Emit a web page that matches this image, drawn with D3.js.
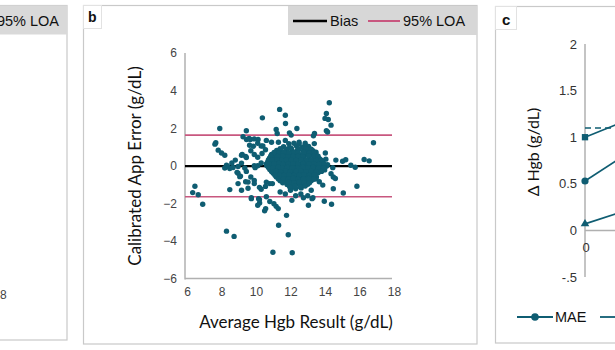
<!DOCTYPE html>
<html>
<head>
<meta charset="utf-8">
<script src="https://cdn.jsdelivr.net/npm/d3@7"></script>
<style>
  body { margin: 0; background: #fff; }
  svg { display: block; }
  text { font-family: "Liberation Sans", Arial, sans-serif; }
  .title { font-family: Lato, "Open Sans", sans-serif; }
</style>
</head>
<body>
<script>
// panel b: Bland-Altman scatter, [average Hgb, calibrated app error]
const outerPoints = [
  [14.25,3.35],[11.37,3.0],[11.7,2.69],[10.37,2.55],[14.08,2.78],[14.0,2.52],[14.19,2.46],[11.71,2.25],
  [14.35,2.16],[14.08,1.86],[14.15,1.8],[7.9,1.98],[12.37,1.98],[11.17,1.93],[11.23,1.72],[9.44,1.86],
  [9.25,1.54],[11.94,1.75],[12.04,1.63],[13.39,1.72],[13.33,1.59],[16.81,1.22],[7.67,1.22],[7.62,1.15],
  [9.67,1.4],[10.12,1.4],[7.81,0.83],[8.0,0.68],[8.19,0.56],[16.27,0.33],[16.56,0.26],[8.35,-0.03],
  [8.19,-0.12],[8.48,-0.15],[6.46,-1.09],[6.33,-1.43],[6.65,-1.54],[6.91,-2.05],[8.48,-1.27],[8.29,-3.48],
  [8.73,-3.76],[10.98,-4.6],[12.1,-4.63],[11.87,-3.67],[11.31,-3.17],[11.77,-2.64],[11.04,-2.02],[11.17,-2.16],
  [11.29,-2.28],[10.56,-2.28],[10.21,-1.98],[10.15,-1.75],[9.73,-1.75],[12.08,-1.84],[13.04,-2.1],[13.25,-1.75],
  [13.96,-1.89],[14.38,-2.05],[14.48,-1.22],[15.06,-1.45],[15.85,-1.09],[14.48,-0.6],[14.02,0.68],[15.02,0.24],
  [15.2,0.32],[15.5,0.03],[15.75,-0.08],[14.63,0.3],[14.45,-0.1],[14.35,-0.42],[14.6,-0.68],[13.38,1.18],
  [13.28,0.8],[13.48,0.72],[13.6,0.3],[14.05,0.35],[14.15,0.05],[13.48,-0.7],[13.67,-0.85],[13.87,-1.03],
  [13.2,-1.3],[13.0,-1.6],[13.3,-1.7],[12.6,-1.5],[12.75,-1.7],[12.3,-1.6],[12.0,-1.3],[11.7,-1.5],
  [11.4,-1.4],[10.8,-0.95],[10.55,-1.1],[10.3,-1.25],[9.9,-0.78],[9.7,-0.6],[9.4,-0.85],[9.1,-0.55],
  [8.9,-0.35],[8.6,0.15],[8.8,0.3],[9.2,0.6],[9.4,0.5],[9.7,0.8],[10.3,1.05],[10.55,0.85],
  [10.6,1.35],[10.9,1.25],[11.3,1.25],[11.7,1.35],[12.5,1.25],[12.85,1.2],[9.45,1.4],[9.6,1.45],
  [9.9,1.43],[9.63,1.09],[9.85,1.04],[10.1,1.2],[10.4,1.05],[9.16,0.56],[9.44,0.44],[9.9,0.6],
  [10.1,0.45],[10.35,0.65],[8.29,0.03],[8.67,-0.09],[8.96,-0.04],[9.16,0.14],[9.35,-0.12],[9.9,0.0],
  [9.95,-0.1],[10.1,0.0],[10.3,0.15],[10.6,0.1],[8.96,-0.4],[9.44,-0.3],[9.06,-0.58],[9.54,-0.87],
  [9.9,-0.95],[10.2,-1.15],[10.6,-0.87],[10.95,-0.95],[9.16,-1.3],[9.54,-1.2],[9.73,-1.7],[10.2,-1.8],
  [10.6,-1.65],[10.8,-1.9],[10.1,-2.1],[10.5,-2.4],[8.96,-0.95]
];
// the dense middle of the cloud
const corePoints = [
  [11.9,1.18],[12.2,1.2],[12.5,1.15],[12.85,1.1],
  [11.6,1.02],[11.95,0.97],[12.35,1.05],[12.7,0.98],[13.05,1.03],
  [11.2,0.82],[11.45,0.78],[11.8,0.84],[12.1,0.79],[12.4,0.83],[12.75,0.77],[13.0,0.82],[13.3,0.79],
  [10.9,0.6],[11.15,0.62],[11.5,0.57],[11.72,0.63],[12.02,0.58],[12.28,0.61],[12.6,0.56],[12.88,0.62],[13.2,0.59],[13.48,0.57],
  [10.78,0.4],[11.08,0.43],[11.37,0.38],[11.62,0.41],[11.9,0.37],[12.18,0.42],[12.48,0.39],[12.77,0.43],[13.08,0.38],[13.4,0.41],[13.68,0.37],
  [10.68,0.2],[10.98,0.18],[11.27,0.22],[11.52,0.17],[11.8,0.21],[12.08,0.19],[12.38,0.23],[12.68,0.18],[12.98,0.21],[13.28,0.17],[13.58,0.22],[13.88,0.19],
  [10.62,0.01],[10.88,-0.02],[11.18,0.03],[11.42,-0.01],[11.7,0.02],[11.98,-0.03],[12.28,0.01],[12.58,0.03],[12.88,-0.02],[13.18,0.02],[13.48,-0.01],[13.78,0.03],[14.08,-0.02],
  [10.8,-0.2],[11.08,-0.18],[11.32,-0.22],[11.6,-0.19],[11.88,-0.21],[12.18,-0.17],[12.48,-0.22],[12.78,-0.2],[13.08,-0.18],[13.38,-0.21],[13.68,-0.19],[13.98,-0.22],
  [11.0,-0.4],[11.28,-0.42],[11.52,-0.38],[11.8,-0.41],[12.1,-0.39],[12.4,-0.43],[12.7,-0.38],[13.0,-0.41],[13.3,-0.4],[13.6,-0.37],
  [11.18,-0.6],[11.48,-0.62],[11.72,-0.58],[12.0,-0.61],[12.32,-0.59],[12.6,-0.63],[12.9,-0.58],[13.2,-0.61],[13.5,-0.6],
  [11.4,-0.8],[11.7,-0.82],[12.02,-0.79],[12.3,-0.81],[12.62,-0.78],[12.9,-0.82],[13.2,-0.8],
  [11.8,-1.0],[12.1,-1.02],[12.42,-0.98],[12.7,-1.01],[13.0,-0.99],
  [12.0,-1.2],[12.3,-1.22],[12.62,-1.18]
];
const coreFillPoints = [
  [11.4,0.91],[11.75,0.88],[12.05,0.92],[12.5,0.89],[12.9,0.91],[13.2,0.88],
  [11.05,0.71],[11.35,0.69],[11.6,0.72],[11.9,0.68],[12.2,0.71],[12.45,0.69],[12.8,0.72],[13.1,0.68],[13.35,0.7],
  [10.85,0.51],[11.25,0.49],[11.55,0.52],[11.85,0.48],[12.15,0.51],[12.42,0.5],[12.72,0.48],[13.05,0.52],[13.35,0.49],[13.6,0.51],
  [10.72,0.31],[10.95,0.29],[11.22,0.32],[11.5,0.28],[11.75,0.31],[12.05,0.3],[12.32,0.28],[12.62,0.32],[12.92,0.29],[13.22,0.31],[13.5,0.28],[13.8,0.3],
  [10.75,0.11],[11.05,0.09],[11.33,0.12],[11.58,0.08],[11.88,0.11],[12.15,0.1],[12.45,0.08],[12.75,0.12],[13.05,0.09],[13.35,0.11],[13.65,0.08],[13.95,0.1],
  [10.72,-0.09],[11.0,-0.11],[11.3,-0.08],[11.55,-0.12],[11.82,-0.09],[12.12,-0.1],[12.42,-0.12],[12.72,-0.08],[13.02,-0.11],[13.32,-0.09],[13.62,-0.12],[13.92,-0.1],
  [10.9,-0.31],[11.15,-0.29],[11.45,-0.32],[11.72,-0.28],[12.0,-0.31],[12.3,-0.3],[12.6,-0.28],[12.9,-0.32],[13.2,-0.29],[13.5,-0.31],[13.8,-0.3],
  [11.1,-0.51],[11.38,-0.49],[11.62,-0.52],[11.9,-0.48],[12.2,-0.51],[12.5,-0.5],[12.78,-0.48],[13.08,-0.52],[13.38,-0.49],
  [11.3,-0.71],[11.6,-0.69],[11.88,-0.72],[12.15,-0.68],[12.45,-0.71],[12.75,-0.7],[13.05,-0.68],[13.35,-0.72],
  [11.55,-0.91],[11.9,-0.89],[12.2,-0.92],[12.5,-0.88],[12.8,-0.91],[13.1,-0.9],
  [11.95,-1.11],[12.25,-1.09],[12.55,-1.12],[12.85,-1.08]
];
const bias = -0.02;
const loa = [-1.65, 1.63];
const bTicksX = [6, 8, 10, 12, 14, 16, 18];
const bTicksY = [-6, -4, -2, 0, 2, 4, 6];

// panel c: change in Hgb, only the first column is visible
const cTime = [0, 1];
const maeVals = [0.53, 0.95];
const squareVals = [1.0, 1.26];
const triangleVals = [0.07, 0.28];
const dashedRef = 1.1;
const cTicksY = [-0.5, 0, 0.5, 1, 1.5, 2];
const cTickLabels = ["-.5", "0", "0.5", "1", "1.5", "2"];

const teal = "#0f5d72";
const pink = "#c8577f";
const frame = "#c9c9c9";
const axisGrey = "#b0b0b0";

const svg = d3.select("body").append("svg")
  .attr("width", 615)
  .attr("height", 350);

// ---- panel a (cut off at the left edge)
{
  svg.append("rect")
    .attr("x", -10).attr("y", 5.5).attr("width", 77).attr("height", 334.5)
    .attr("fill", "none").attr("stroke", frame).attr("stroke-width", 1.2);
  svg.append("rect")
    .attr("x", -10).attr("y", 5.5).attr("width", 77).attr("height", 29)
    .attr("fill", "#d9d9d9");
  svg.append("text")
    .attr("x", 59).attr("y", 25.5)
    .attr("text-anchor", "end")
    .attr("font-size", "14.5px").attr("fill", "#111")
    .text("95% LOA");
  svg.append("text")
    .attr("x", 0).attr("y", 299)
    .attr("text-anchor", "middle")
    .attr("font-size", "12px").attr("fill", "#444")
    .text("18");
}

// ---- panel b
{
  const g = svg.append("g");
  const xScale = d3.scaleLinear().domain([6, 18]).range([187, 394]);
  const yScale = d3.scaleLinear().domain([-6, 6]).range([278.5, 53]);

  g.append("rect")
    .attr("x", 83.5).attr("y", 5.5).attr("width", 393.5).attr("height", 338.5)
    .attr("fill", "none").attr("stroke", frame).attr("stroke-width", 1.2);
  g.append("rect")
    .attr("x", 83.5).attr("y", 5.5).attr("width", 18).attr("height", 23)
    .attr("fill", "#fff").attr("stroke", "#e2e2e2").attr("stroke-width", 1);
  g.append("text")
    .attr("x", 88).attr("y", 22)
    .attr("font-size", "14px").attr("font-weight", "bold").attr("fill", "#111")
    .text("b");

  // legend
  g.append("rect")
    .attr("x", 288).attr("y", 6).attr("width", 189).attr("height", 29)
    .attr("fill", "#d7d7d7");
  g.append("line")
    .attr("x1", 293).attr("x2", 327).attr("y1", 21).attr("y2", 21)
    .attr("stroke", "#000").attr("stroke-width", 2.5);
  g.append("text")
    .attr("x", 330).attr("y", 26)
    .attr("font-size", "14.5px").attr("fill", "#111")
    .text("Bias");
  g.append("line")
    .attr("x1", 368).attr("x2", 400).attr("y1", 21).attr("y2", 21)
    .attr("stroke", pink).attr("stroke-width", 2);
  g.append("text")
    .attr("x", 403).attr("y", 26)
    .attr("font-size", "14.5px").attr("fill", "#111")
    .text("95% LOA");

  // axes
  g.append("line")
    .attr("x1", 185).attr("x2", 185).attr("y1", yScale(6)).attr("y2", yScale(-6) + 1)
    .attr("stroke", axisGrey).attr("stroke-width", 1.5);
  g.append("line")
    .attr("x1", 185).attr("x2", 392).attr("y1", yScale(-6)).attr("y2", yScale(-6))
    .attr("stroke", axisGrey).attr("stroke-width", 1.5);

  const yAxis = g.append("g")
    .attr("transform", "translate(185,0)")
    .call(d3.axisLeft(yScale).tickValues(bTicksY).tickSize(0).tickPadding(8));
  const xAxis = g.append("g")
    .attr("transform", `translate(0,${yScale(-6)})`)
    .call(d3.axisBottom(xScale).tickValues(bTicksX).tickSize(0).tickPadding(9));
  [yAxis, xAxis].forEach(a => {
    a.select(".domain").remove();
    a.selectAll("text")
      .attr("font-family", "Liberation Sans, Arial, sans-serif")
      .attr("font-size", "12px")
      .attr("fill", "#444");
  });

  // reference lines
  g.append("line")
    .attr("x1", 185).attr("x2", 392).attr("y1", yScale(bias)).attr("y2", yScale(bias))
    .attr("stroke", "#000").attr("stroke-width", 2.2);
  loa.forEach(v => {
    g.append("line")
      .attr("x1", 185).attr("x2", 392).attr("y1", yScale(v)).attr("y2", yScale(v))
      .attr("stroke", pink).attr("stroke-width", 1.6);
  });

  g.append("g").selectAll("circle")
    .data(outerPoints.concat(corePoints, coreFillPoints))
    .join("circle")
    .attr("cx", d => xScale(d[0]))
    .attr("cy", d => yScale(d[1]))
    .attr("r", 2.7)
    .attr("fill", teal);

  g.append("text")
    .attr("class", "title")
    .attr("x", 296).attr("y", 328)
    .attr("text-anchor", "middle")
    .attr("font-size", "17px").attr("fill", "#111")
    .text("Average Hgb Result (g/dL)");
  g.append("text")
    .attr("class", "title")
    .attr("transform", "translate(141,166) rotate(-90)")
    .attr("text-anchor", "middle")
    .attr("font-size", "17px").attr("fill", "#111")
    .text("Calibrated App Error (g/dL)");
}

// ---- panel c (cut off at the right edge)
{
  const g = svg.append("g");
  const xScale = d3.scaleLinear().domain([0, 4]).range([585, 825]);
  const yScale = d3.scaleLinear().domain([-0.5, 2]).range([277, 44]);

  g.append("rect")
    .attr("x", 495.5).attr("y", 6.5).attr("width", 140).attr("height", 336.5)
    .attr("fill", "none").attr("stroke", frame).attr("stroke-width", 1.2);
  g.append("rect")
    .attr("x", 495.5).attr("y", 6.5).attr("width", 21).attr("height", 23)
    .attr("fill", "#fff").attr("stroke", "#e2e2e2").attr("stroke-width", 1);
  g.append("text")
    .attr("x", 502).attr("y", 25)
    .attr("font-size", "15px").attr("font-weight", "bold").attr("fill", "#111")
    .text("c");

  g.append("line")
    .attr("x1", 585).attr("x2", 585).attr("y1", yScale(2)).attr("y2", yScale(-0.5))
    .attr("stroke", axisGrey).attr("stroke-width", 1.5);
  g.append("line")
    .attr("x1", 585).attr("x2", 620).attr("y1", yScale(0)).attr("y2", yScale(0))
    .attr("stroke", axisGrey).attr("stroke-width", 1.5);

  const yAxis = g.append("g")
    .attr("transform", "translate(585,0)")
    .call(d3.axisLeft(yScale).tickValues(cTicksY).tickSize(0).tickPadding(8)
      .tickFormat((d, i) => cTickLabels[i]));
  yAxis.select(".domain").remove();
  yAxis.selectAll("text")
    .attr("font-family", "Liberation Sans, Arial, sans-serif")
    .attr("font-size", "13px").attr("fill", "#333");
  g.append("text")
    .attr("x", xScale(0) + 1).attr("y", yScale(0) + 22)
    .attr("text-anchor", "middle")
    .attr("font-size", "13px").attr("fill", "#333")
    .text("0");

  g.append("line")
    .attr("x1", 585).attr("x2", 620).attr("y1", yScale(dashedRef)).attr("y2", yScale(dashedRef))
    .attr("stroke", teal).attr("stroke-width", 1.5).attr("stroke-dasharray", "6,4");

  const line = d3.line().x((d, i) => xScale(cTime[i])).y(d => yScale(d));
  [maeVals, squareVals, triangleVals].forEach(vals => {
    g.append("path")
      .attr("d", line(vals))
      .attr("fill", "none").attr("stroke", teal).attr("stroke-width", 1.6);
  });
  g.selectAll(".mae")
    .data(maeVals)
    .join("circle")
    .attr("cx", (d, i) => xScale(cTime[i]))
    .attr("cy", d => yScale(d))
    .attr("r", 3.6)
    .attr("fill", teal);
  g.selectAll(".sq")
    .data(squareVals)
    .join("path")
    .attr("transform", (d, i) => `translate(${xScale(cTime[i])},${yScale(d)})`)
    .attr("d", d3.symbol(d3.symbolSquare, 40))
    .attr("fill", teal);
  g.selectAll(".tri")
    .data(triangleVals)
    .join("path")
    .attr("transform", (d, i) => `translate(${xScale(cTime[i])},${yScale(d)})`)
    .attr("d", d3.symbol(d3.symbolTriangle, 32))
    .attr("fill", teal);

  g.append("text")
    .attr("class", "title")
    .attr("transform", "translate(539,152) rotate(-90)")
    .attr("text-anchor", "middle")
    .attr("font-size", "16px").attr("fill", "#111")
    .text("Δ Hgb (g/dL)");

  // legend
  g.append("line")
    .attr("x1", 517).attr("x2", 553).attr("y1", 317).attr("y2", 317)
    .attr("stroke", teal).attr("stroke-width", 1.8);
  g.append("circle")
    .attr("cx", 535).attr("cy", 317).attr("r", 3.8)
    .attr("fill", teal);
  g.append("text")
    .attr("x", 555).attr("y", 322)
    .attr("font-size", "14.5px").attr("fill", "#111")
    .text("MAE");
  g.append("line")
    .attr("x1", 600).attr("x2", 630).attr("y1", 317).attr("y2", 317)
    .attr("stroke", teal).attr("stroke-width", 1.8);
}
</script>
</body>
</html>
